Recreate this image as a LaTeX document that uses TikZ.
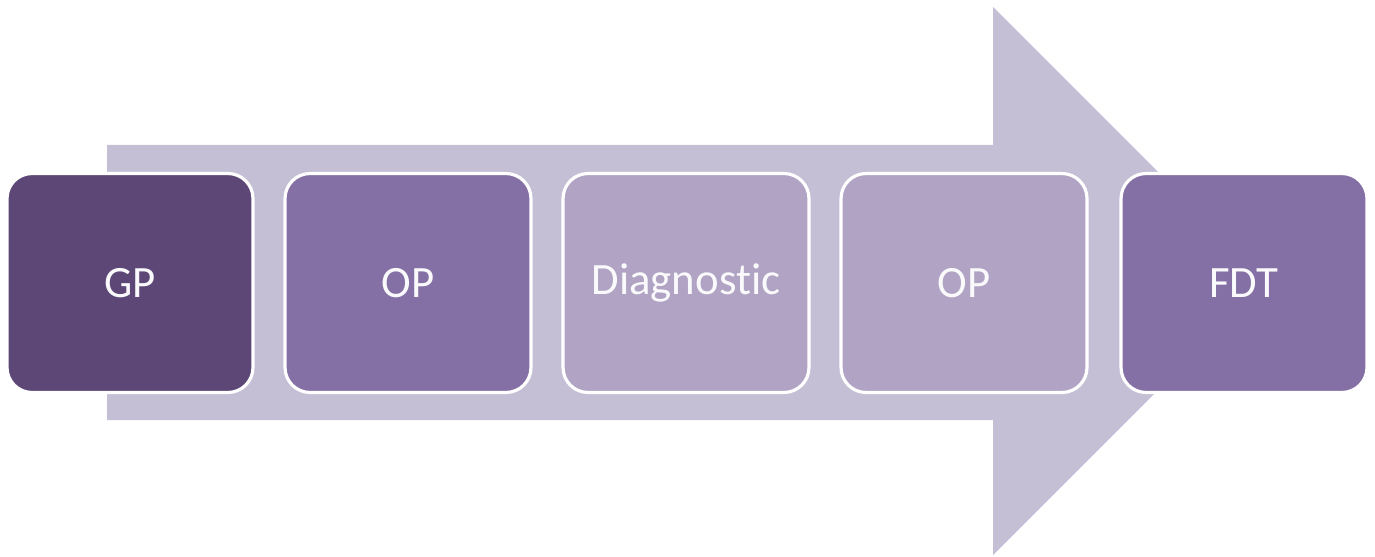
\documentclass[tikz,border=0pt]{standalone}
\usepackage{fontspec}
\setmainfont[Ligatures=NoCommon]{Carlito}
\definecolor{arrowfill}{HTML}{C5BFD6}
\definecolor{darkstep}{HTML}{5D4777}
\definecolor{midstep}{HTML}{8470A4}
\definecolor{lightstep}{HTML}{B0A3C3}
\tikzset{
    stepbox/.style={draw=white, line width=1.8pt, rounded corners=0.5cm,
        minimum width=4.92cm, minimum height=4.38cm, inner sep=0pt,
        text=white!94!lightstep, font=\fontsize{25.5}{30}\selectfont},
}
\begin{document}
\begin{tikzpicture}[x=0.02cm,y=-0.02cm]
    \useasboundingbox (0,0) rectangle (1375,557);
    % big arrow behind the steps
    \fill[arrowfill] (107,145) -- (993,145) -- (993,7) -- (1267,281) -- (993,555) -- (993,420) -- (107,420) -- cycle;
    \node[stepbox, fill=darkstep] (gp) at (130,283) {GP};
    \node[stepbox, fill=midstep] (op1) at (408,283) {OP};
    \node[stepbox, fill=lightstep] (diag) at (686,283) {Diagnostic};
    \node[stepbox, fill=lightstep] (op2) at (964,283) {OP};
    \node[stepbox, fill=midstep] (fdt) at (1244,283) {FDT};
\end{tikzpicture}
\end{document}
